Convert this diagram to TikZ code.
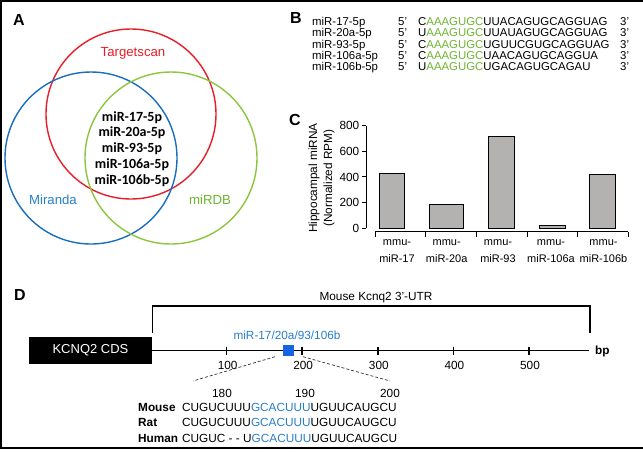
\documentclass[tikz,border=0pt]{standalone}
\usepackage{fontspec}
\setmainfont{Liberation Sans}
\newfontfamily\carlito{Carlito}
\definecolor{vred}{RGB}{230,30,40}
\definecolor{vblue}{RGB}{25,110,190}
\definecolor{vgreen}{RGB}{140,198,63}
\definecolor{tgreen}{RGB}{110,180,50}
\definecolor{tblue}{RGB}{40,125,200}
\definecolor{sqblue}{RGB}{20,100,230}
\definecolor{bargray}{RGB}{180,178,177}
\begin{document}
\begin{tikzpicture}[x=1pt,y=-1pt,
  panel/.style={font=\fontsize{16}{18}\selectfont\bfseries, inner sep=0pt},
  txt/.style={font=\fontsize{11.8}{13}\selectfont, inner sep=0pt, text height=8.4pt, text depth=0pt},
  stxt/.style={txt, font=\fontsize{11.4}{13}\selectfont},
  ctxt/.style={txt, font=\fontsize{11}{13}\selectfont},
  btxt/.style={txt, font=\fontsize{11.8}{13}\selectfont\bfseries},
  vtxt/.style={font=\fontsize{13.2}{15}\selectfont, inner sep=0pt, text height=9.4pt, text depth=0pt},
  ltxt/.style={font=\fontsize{14}{15}\selectfont\carlito\bfseries, inner sep=0pt, text height=9.2pt, text depth=0pt},
  venn/.style={circle, draw, line width=1.4pt, inner sep=0pt},
  barbox/.style={draw=black, fill=bargray, line width=0.9pt},
  axisline/.style={line width=0.9pt},
  thick1/.style={line width=1.5pt},
  zoomline/.style={dash pattern=on 3pt off 2pt, line width=0.7pt, black!80}
]
\useasboundingbox (0,0) rectangle (643,451);
% frame
\coordinate (f1) at (643,1); \coordinate (f2) at (1,1);
\coordinate (f3) at (1,448); \coordinate (f4) at (643,448);
\draw[line width=1.6pt] (f1) -- (f2) -- (f3) -- (f4);

% ---------- Panel A ----------
\node[panel] (pA) at (19,20) {A};
\node[venn, draw=vred, minimum size=170pt] (ts) at (131,114) {};
\node[venn, draw=vblue, minimum size=172pt] (mi) at (91,158) {};
\node[venn, draw=vgreen, minimum size=172pt] (db) at (171,158) {};
\node[vtxt, text=vred] (tsl) at (133,52) {Targetscan};
\node[vtxt, text=tblue] (mil) at (53,200) {Miranda};
\node[vtxt, text=tgreen] (dbl) at (210,200) {miRDB};
\node[ltxt] (l1) at (132,116.5) {miR-17-5p};
\node[ltxt] (l2) at (132,132.3) {miR-20a-5p};
\node[ltxt] (l3) at (132,148.1) {miR-93-5p};
\node[ltxt] (l4) at (132,163.9) {miR-106a-5p};
\node[ltxt] (l5) at (132,179.7) {miR-106b-5p};

% ---------- Panel B ----------
\node[panel] (pB) at (296,18) {B};
\foreach \i/\nm/\a/\b in {0/miR-17-5p/C/UUACAGUGCAGGUAG,
                          1/miR-20a-5p/U/UUAUAGUGCAGGUAG,
                          2/miR-93-5p/C/UGUUCGUGCAGGUAG,
                          3/miR-106a-5p/C/UAACAGUGCAGGUA,
                          4/miR-106b-5p/U/UGACAGUGCAGAU}{
  \node[stxt, anchor=west] (bn\i) at (312,21.5+11.2*\i) {\nm};
  \node[stxt, anchor=west] (b5\i) at (398,21.5+11.2*\i) {5’};
  \node[stxt, anchor=west] (bs\i) at (418,21.5+11.2*\i) {\a\textcolor{tgreen}{AAAGUGC}\b};
  \node[stxt, anchor=west] (b3\i) at (620,21.5+11.2*\i) {3’};
}

% ---------- Panel C ----------
\node[panel] (pC) at (295,120) {C};
\coordinate (ya) at (366,125.7); \coordinate (yb) at (366,228);
\draw[axisline] (ya) -- (yb);
\foreach \v in {0,200,400,600,800}{
  \coordinate (yt\v) at (366,228-0.12788*\v);
  \draw[axisline] (yt\v) -- ++(-4.5,0);
  \node[txt, anchor=east] (ytl\v) at (359.5,228-0.12788*\v) {\v};
}
\node[txt, rotate=90] (ylab1) at (313,178) {Hippocampal miRNA};
\node[txt, rotate=90] (ylab2) at (328,178) {(Normalized RPM)};
\coordinate (xa) at (375,231.5); \coordinate (xb) at (628,231.5);
\draw[axisline] (xa) -- (xb);
\foreach \t in {375,425.7,476.7,527.7,577.7,628}{
  \draw[axisline] (\t,231.5) -- (\t,237);
}
\draw[barbox] (379,228) rectangle (404,173.3);
\draw[barbox] (429,228) rectangle (463,204.3);
\draw[barbox] (488,228) rectangle (514,136);
\draw[barbox] (539,228) rectangle (565,225.5);
\draw[barbox] (589,228) rectangle (615,174);
\foreach \i/\x/\nm in {1/397/miR-17,2/446.7/miR-20a,3/498/miR-93,4/551/miR-106a,5/603.5/miR-106b}{
  \node[ctxt] (cm\i) at (\x,241.7) {mmu-};
  \node[ctxt] (cn\i) at (\x,258) {\nm};
}

% ---------- Panel D ----------
\node[panel] (pD) at (20,295) {D};
\node[fill=black, minimum width=123pt, minimum height=27pt, inner sep=0pt,
      text=white, font=\fontsize{13}{15}\selectfont] (cds) at (90.5,350.5) {KCNQ2 CDS};
\coordinate (lend) at (589,350.5);
\draw[thick1] (cds.east) -- (lend);
\node[btxt, anchor=west] (bp) at (595,350.5) {bp};
\coordinate (br1) at (152.5,333); \coordinate (br2) at (152.5,306);
\coordinate (br3) at (590,306); \coordinate (br4) at (590,333);
\draw[line width=1.1pt] (br1) -- (br2) -- (br3) -- (br4);
\node[txt] (utr) at (376,296) {Mouse Kcnq2 3’-UTR};
\foreach \k in {1,...,5}{
  \draw[thick1] (151+75.6*\k,346.5) -- (151+75.6*\k,354.5);
  \pgfmathtruncatemacro{\lab}{100*\k}
  \node[txt] (tl\k) at (152+75.6*\k,365.5) {\lab};
}
\node[fill=sqblue, minimum size=11pt, inner sep=0pt] (site) at (288,350) {};
\node[txt, text=tblue] (sitel) at (287,335) {miR-17/20a/93/106b};
\coordinate (zl0) at (275,356.7); \coordinate (zl1) at (193,381);
\coordinate (zr0) at (303,356.7); \coordinate (zr1) at (390,381);
\draw[zoomline] (zl0) -- (zl1);
\draw[zoomline] (zr0) -- (zr1);
\node[txt] (n180) at (222,393) {180};
\node[txt] (n190) at (305,393) {190};
\node[txt] (n200) at (390,393) {200};
\node[btxt, anchor=west] (sm) at (138,407) {Mouse};
\node[btxt, anchor=west] (sr) at (138,422.5) {Rat};
\node[btxt, anchor=west] (sh) at (138,438) {Human};
\node[txt, anchor=west] (qm) at (182,407) {CUGUCUUU\textcolor{tblue}{GCACUUU}UGUUCAUGCU};
\node[txt, anchor=west] (qr) at (182,422.5) {CUGUCUUU\textcolor{tblue}{GCACUUU}UGUUCAUGCU};
\node[txt, anchor=west] (qh) at (182,438) {CUGUC - - U\textcolor{tblue}{GCACUUU}UGUUCAUGCU};
\end{tikzpicture}
\end{document}
